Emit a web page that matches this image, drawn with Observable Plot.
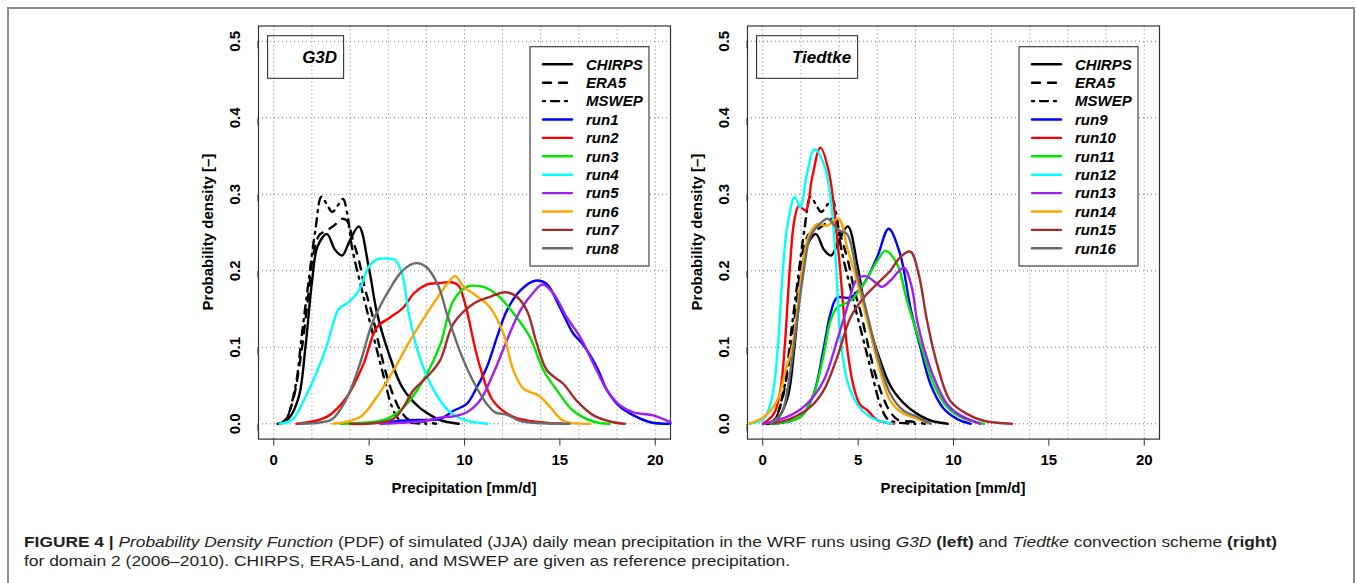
<!DOCTYPE html>
<html>
<head>
<meta charset="utf-8">
<script src="https://cdn.jsdelivr.net/npm/d3@7"></script>
<script src="https://cdn.jsdelivr.net/npm/@observablehq/plot@0.6"></script>
<style>
html, body { margin: 0; padding: 0; background: #fff; width: 1356px; height: 583px; overflow: hidden; }
#frame { position: absolute; left: 7px; top: 7px; width: 1348px; height: 640px; border: 2px solid #8c8c8c; box-sizing: border-box; }
.panel { position: absolute; top: 0; }
.cap { position: absolute; left: 24px; white-space: nowrap; font-family: "Liberation Sans", Arial, sans-serif; font-size: 15.5px; line-height: 18px; color: #231f20; transform-origin: 0 50%; }
</style>
</head>
<body>
<div id="frame"></div>
<div id="app"></div>
<div id="cap1" class="cap" style="top:532.5px"><b>FIGURE 4 |</b> <i>Probability Density Function</i> (PDF) of simulated (JJA) daily mean precipitation in the WRF runs using <i>G3D</i> <b>(left)</b> and <i>Tiedtke</i> convection scheme <b>(right)</b></div>
<div id="cap2" class="cap" style="top:552px">for domain 2 (2006–2010). CHIRPS, ERA5-Land, and MSWEP are given as reference precipitation.</div>
<script>
// ---------- data: [precipitation mm/d, density] ----------
const CHIRPS = [[0.3,0],[0.79,0.007],[1.31,0.035],[1.66,0.10],[2.01,0.187],[2.3,0.232],[2.79,0.248],[3.2,0.228],[3.58,0.22],[4.0,0.24],[4.46,0.258],[4.98,0.205],[5.42,0.144],[6.03,0.092],[6.73,0.048],[7.6,0.022],[8.3,0.01],[8.83,0.004],[9.7,0]];
const ERA5 = [[0.3,0],[0.6,0.005],[1.0,0.03],[1.4,0.085],[1.8,0.165],[2.1,0.225],[2.4,0.247],[2.8,0.253],[3.2,0.26],[3.6,0.268],[3.85,0.265],[4.15,0.24],[4.45,0.215],[4.8,0.175],[5.15,0.144],[5.5,0.105],[5.9,0.065],[6.3,0.035],[6.7,0.015],[7.1,0.005],[7.8,0.003],[8.5,0]];
const MSWEP = [[0.2,0],[0.6,0.004],[1.13,0.048],[1.48,0.118],[1.83,0.187],[2.18,0.253],[2.5,0.297],[2.78,0.287],[3.06,0.277],[3.35,0.285],[3.63,0.294],[3.85,0.275],[4.1,0.231],[4.63,0.174],[5.15,0.122],[5.68,0.07],[6.2,0.022],[6.55,0.006],[7.0,0.002],[8.0,0]];

const run1 = [[5.6,0],[6.63,0.004],[7.5,0.005],[8.72,0.0065],[9.42,0.017],[10.12,0.026],[10.65,0.048],[11.17,0.074],[11.7,0.113],[12.22,0.148],[12.92,0.174],[13.7,0.187],[14.3,0.183],[15.0,0.152],[15.7,0.118],[16.2,0.104],[16.94,0.074],[17.47,0.044],[18.16,0.022],[18.86,0.011],[19.74,0.002],[20.8,0]];
const run2 = [[1.2,0],[2.78,0.009],[3.83,0.035],[4.7,0.078],[5.4,0.126],[6.1,0.139],[6.8,0.152],[7.33,0.17],[8.02,0.182],[8.72,0.184],[9.34,0.185],[9.7,0.18],[10.12,0.148],[10.5,0.105],[10.82,0.074],[11.5,0.03],[12.56,0.009],[14.0,0.002],[15.2,0]];
const run3 = [[3.5,0],[5.93,0.0065],[6.98,0.026],[8.02,0.065],[8.72,0.103],[9.42,0.161],[10.12,0.179],[10.82,0.18],[11.35,0.175],[11.87,0.165],[12.74,0.139],[13.44,0.113],[14.14,0.07],[14.84,0.044],[15.7,0.017],[16.75,0.003],[17.6,0]];
const run4 = [[0.3,0],[1.0,0.006],[1.66,0.035],[2.36,0.074],[2.75,0.1],[3.1,0.13],[3.41,0.15],[3.93,0.159],[4.46,0.174],[4.98,0.205],[5.42,0.215],[6.0,0.216],[6.38,0.214],[6.73,0.196],[7.08,0.144],[7.6,0.091],[8.3,0.048],[9.18,0.017],[10.0,0.005],[11.2,0]];
const run5 = [[5.6,0],[8.0,0.004],[8.7,0.008],[9.5,0.01],[10.12,0.015],[10.8,0.03],[11.5,0.065],[12.22,0.109],[12.92,0.148],[13.62,0.172],[14.1,0.182],[14.67,0.17],[15.37,0.139],[16.07,0.113],[16.77,0.078],[17.47,0.044],[18.16,0.024],[18.86,0.015],[19.9,0.011],[20.8,0.002]];
const run6 = [[3.1,0],[4.53,0.009],[5.4,0.035],[6.28,0.07],[7.15,0.109],[8.02,0.144],[8.72,0.17],[9.16,0.185],[9.51,0.193],[10.0,0.178],[10.47,0.17],[11.34,0.152],[12.04,0.118],[12.56,0.07],[13.09,0.046],[13.88,0.037],[14.49,0.022],[15.19,0.004],[16.6,0]];
const run7 = [[4.0,0],[6.28,0.0065],[7.33,0.044],[8.02,0.061],[8.72,0.083],[9.42,0.131],[10.47,0.157],[11.34,0.166],[12.13,0.172],[12.74,0.166],[13.27,0.148],[13.79,0.105],[14.32,0.07],[15.19,0.052],[15.89,0.03],[16.76,0.011],[17.8,0.002],[18.4,0]];
const run8 = [[1.38,0],[2.5,0.002],[3.06,0.006],[3.76,0.03],[4.46,0.074],[5.15,0.131],[5.6,0.155],[6.03,0.174],[6.6,0.196],[7.1,0.207],[7.51,0.21],[8.0,0.205],[8.6,0.182],[9.1,0.142],[9.8,0.092],[10.47,0.055],[11.17,0.026],[11.6,0.015],[12.2,0.012],[12.9,0.004],[13.8,0.001],[15.5,0]];

const run9 = [[0.58,0],[1.97,0.009],[2.67,0.039],[3.2,0.1],[3.55,0.144],[3.9,0.165],[4.6,0.165],[5.3,0.183],[6.0,0.218],[6.6,0.255],[7.2,0.222],[7.74,0.152],[8.26,0.1],[8.79,0.052],[9.48,0.02],[10.18,0.0065],[10.9,0]];
const run10 = [[0.0,0],[0.58,0.013],[0.93,0.045],[1.15,0.1],[1.41,0.2],[1.65,0.265],[1.89,0.285],[2.24,0.279],[2.59,0.322],[3.02,0.361],[3.46,0.33],[3.98,0.222],[4.42,0.1],[4.77,0.048],[5.1,0.025],[5.47,0.018],[6.0,0.005],[6.86,0]];
const run11 = [[0.5,0],[1.97,0.009],[2.67,0.039],[3.2,0.091],[3.55,0.135],[3.9,0.152],[4.6,0.161],[5.3,0.183],[6.0,0.213],[6.43,0.226],[7.04,0.209],[7.56,0.161],[8.26,0.105],[8.96,0.052],[9.66,0.022],[10.36,0.009],[11.6,0]];
const run12 = [[-0.73,0],[0.05,0.0065],[0.49,0.035],[0.79,0.1],[1.05,0.2],[1.3,0.26],[1.68,0.297],[1.97,0.283],[2.32,0.327],[2.71,0.359],[3.2,0.34],[3.55,0.296],[3.81,0.222],[4.07,0.113],[4.42,0.057],[4.94,0.026],[5.64,0.009],[6.78,0]];
const run13 = [[0.05,0],[1.45,0.011],[2.32,0.026],[3.2,0.057],[3.9,0.109],[4.42,0.152],[4.94,0.189],[5.38,0.193],[6.0,0.183],[6.25,0.179],[6.69,0.187],[7.39,0.204],[7.8,0.18],[8.09,0.135],[8.44,0.1],[8.96,0.061],[9.66,0.026],[10.36,0.011],[11.4,0]];
const run14 = [[-0.73,0],[0.05,0.009],[0.75,0.03],[1.2,0.07],[1.54,0.1],[2.06,0.2],[2.4,0.245],[2.85,0.261],[3.37,0.259],[3.98,0.268],[4.42,0.231],[4.94,0.187],[5.47,0.135],[6.0,0.083],[6.69,0.03],[7.39,0.013],[8.09,0.0065],[8.8,0]];
const run15 = [[0.4,0],[1.45,0.0065],[2.5,0.022],[3.2,0.044],[3.9,0.087],[4.6,0.139],[5.3,0.165],[6.0,0.183],[6.69,0.2],[7.21,0.218],[7.74,0.225],[8.17,0.196],[8.61,0.135],[9.14,0.078],[9.83,0.03],[10.7,0.013],[11.58,0.004],[13.07,0]];
const run16 = [[0.4,0],[1.0,0.015],[1.3,0.045],[1.62,0.1],[2.15,0.2],[2.5,0.245],[3.02,0.262],[3.4,0.268],[3.98,0.253],[4.42,0.248],[4.94,0.196],[5.47,0.144],[6.0,0.091],[6.69,0.039],[7.39,0.017],[8.09,0.009],[8.8,0]];

const refNames = ["CHIRPS", "ERA5", "MSWEP"];
const refData = [CHIRPS, ERA5, MSWEP];
const refDash = [null, "8,8", "2,6,8,6"];

const g3dNames = ["run1", "run2", "run3", "run4", "run5", "run6", "run7", "run8"];
const g3dData = [run1, run2, run3, run4, run5, run6, run7, run8];
const tiedtkeNames = ["run9", "run10", "run11", "run12", "run13", "run14", "run15", "run16"];
const tiedtkeData = [run9, run10, run11, run12, run13, run14, run15, run16];
const runColors = ["#0000ff", "#ff0000", "#00e600", "#00ffff", "#a020f0", "#ffa500", "#a52a2a", "#6b6b6b"];

const xTicks = [0, 5, 10, 15, 20];
const xGrid = [0, 2, 4, 6, 8, 10, 12, 14, 16, 18, 20];
const yTicks = [0, 0.1, 0.2, 0.3, 0.4, 0.5];
const xTitle = "Precipitation [mm/d]";
const yTitle = "Probability density [–]";

// ---------- layout ----------
const W = 488, H = 520, ML = 68, MR = 8, MT = 25.5, MB = 81.4;
const FONT = "'Liberation Sans', Arial, Helvetica, sans-serif";

function panel(label, labelW, runNames, runData) {
  const series = [];
  refNames.forEach((n, i) => series.push({name: n, data: refData[i], color: "#000", dash: refDash[i]}));
  runNames.forEach((n, i) => series.push({name: n, data: runData[i], color: runColors[i], dash: null}));

  const marks = [
    Plot.gridX({ticks: xGrid, stroke: "#777", strokeOpacity: 1, strokeWidth: 1, strokeDasharray: "1,3"}),
    Plot.gridY({ticks: yTicks, stroke: "#777", strokeOpacity: 1, strokeWidth: 1, strokeDasharray: "1,3"}),
    Plot.frame({stroke: "#333", strokeWidth: 1.2})
  ];
  series.forEach(s => {
    marks.push(Plot.line(s.data, {
      x: d => d[0], y: d => d[1], stroke: s.color, strokeWidth: 2.4,
      strokeDasharray: s.dash || undefined, strokeLinecap: "round", strokeLinejoin: "round",
      curve: "catmull-rom"
    }));
  });
  marks.push(Plot.axisX({ticks: xTicks, tickSize: 7, tickPadding: 7.8, fontSize: 15, fontWeight: "bold", label: null, stroke: "#333"}));
  marks.push(Plot.axisY({ticks: yTicks, tickSize: 7, tickPadding: 16.4, tickFormat: d3.format(".1f"), rotate: -90, textAnchor: "middle", fontSize: 15, fontWeight: "bold", label: null, stroke: "#333"}));

  const svg = Plot.plot({
    width: W, height: H,
    marginLeft: ML, marginRight: MR, marginTop: MT, marginBottom: MB,
    x: {domain: [-0.8, 20.8]},
    y: {domain: [-0.02, 0.52]},
    style: {fontFamily: FONT, fontSize: "15px", color: "#000", background: "transparent", overflow: "visible"},
    marks
  });

  const fl = ML, fr = W - MR, ft = MT, fb = H - MB;
  const g = d3.select(svg).append("g").attr("font-family", FONT).attr("fill", "#000").attr("text-anchor", "start");
  g.append("text").attr("x", (fl + fr) / 2).attr("y", fb + 48.9).attr("dy", "0.35em")
    .attr("text-anchor", "middle").attr("font-weight", "bold").attr("font-size", 15).text(xTitle);
  g.append("text").attr("transform", `translate(${fl - 50.4},${(ft + fb) / 2}) rotate(-90)`).attr("dy", "0.35em")
    .attr("text-anchor", "middle").attr("font-weight", "bold").attr("font-size", 15).text(yTitle);

  // label box
  const bx = fl + 9.6, by = ft + 10.2, bh = 42.6;
  g.append("rect").attr("x", bx).attr("y", by).attr("width", labelW).attr("height", bh)
    .attr("fill", "none").attr("stroke", "#333").attr("stroke-width", 1.1);
  g.append("text").attr("x", bx + labelW - 6.5).attr("y", by + bh / 2).attr("dy", "0.35em")
    .attr("text-anchor", "end").attr("font-weight", "bold").attr("font-style", "italic").attr("font-size", 17).text(label);

  // legend
  const lw = 119, lh = 219.3, lx = fr - 21 - lw, ly = ft + 21.2;
  g.append("rect").attr("x", lx).attr("y", ly).attr("width", lw).attr("height", lh)
    .attr("fill", "#fff").attr("stroke", "#333").attr("stroke-width", 1.1);
  series.forEach((s, i) => {
    const y = ly + 17.6 + i * 18.4;
    g.append("line").attr("x1", lx + 13).attr("x2", lx + 42).attr("y1", y).attr("y2", y)
      .attr("stroke", s.color).attr("stroke-width", 2.4).attr("stroke-linecap", "round")
      .attr("stroke-dasharray", s.dash);
    g.append("text").attr("x", lx + 56).attr("y", y).attr("dy", "0.35em").attr("text-anchor", "start")
      .attr("font-weight", "bold").attr("font-style", "italic").attr("font-size", 15).text(s.name);
  });
  return svg;
}

const app = document.getElementById("app");
const left = panel("G3D", 76, g3dNames, g3dData);
left.setAttribute("class", "panel");
left.style.left = (258.4 - ML) + "px";
app.appendChild(left);
const right = panel("Tiedtke", 101, tiedtkeNames, tiedtkeData);
right.setAttribute("class", "panel");
right.style.left = (747.3 - ML) + "px";
app.appendChild(right);

function fit(id, target) {
  const el = document.getElementById(id);
  const w = el.getBoundingClientRect().width;
  el.style.transform = `scaleX(${target / w})`;
}
fit("cap1", 1253);
fit("cap2", 766);
</script>
</body>
</html>
